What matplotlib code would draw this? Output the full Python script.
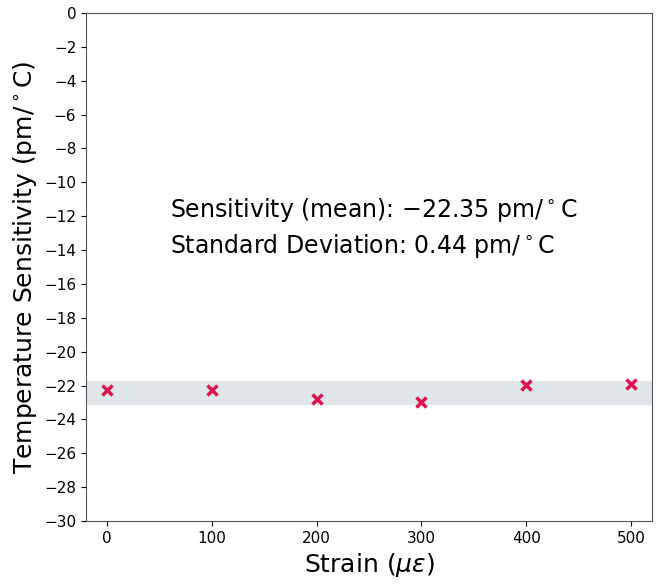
import matplotlib.pyplot as plt
import numpy as np

# Data
strain = [0, 100, 200, 300, 400, 500]
sensitivity = [-22.25, -22.25, -22.8, -23.0, -21.95, -21.9]
band_low = -23.09
band_high = -21.72
mean_txt = r'Sensitivity (mean): $-$22.35 pm/$^\circ$C'
std_txt = r'Standard Deviation: 0.44 pm/$^\circ$C'

fig = plt.figure(figsize=(6.57, 5.84), dpi=100)
ax = fig.add_axes([86 / 657, 1 - 521 / 584, 566 / 657, 508 / 584])

ax.axhspan(band_low, band_high, color='#e1e6ea', zorder=0)
ax.plot(strain, sensitivity, 'x', color='#e0134f', markersize=7,
        markeredgewidth=2.5, zorder=3)

ax.text(60, -12.7, mean_txt + '\n' + std_txt, fontsize=17, va='center',
        linespacing=1.4)

ax.set_xlim(-20, 520)
ax.set_ylim(-30, 0)
ax.set_yticks(np.arange(-30, 1, 2))
ax.set_xticks([0, 100, 200, 300, 400, 500])
ax.tick_params(labelsize=11)
for s in ax.spines.values():
    s.set_color('#555555')
ax.set_xlabel(r'Strain ($\mu\epsilon$)', fontsize=18, labelpad=4)
ax.set_ylabel(r'Temperature Sensitivity (pm/$^\circ$C)', fontsize=18)

plt.savefig('out.png')
